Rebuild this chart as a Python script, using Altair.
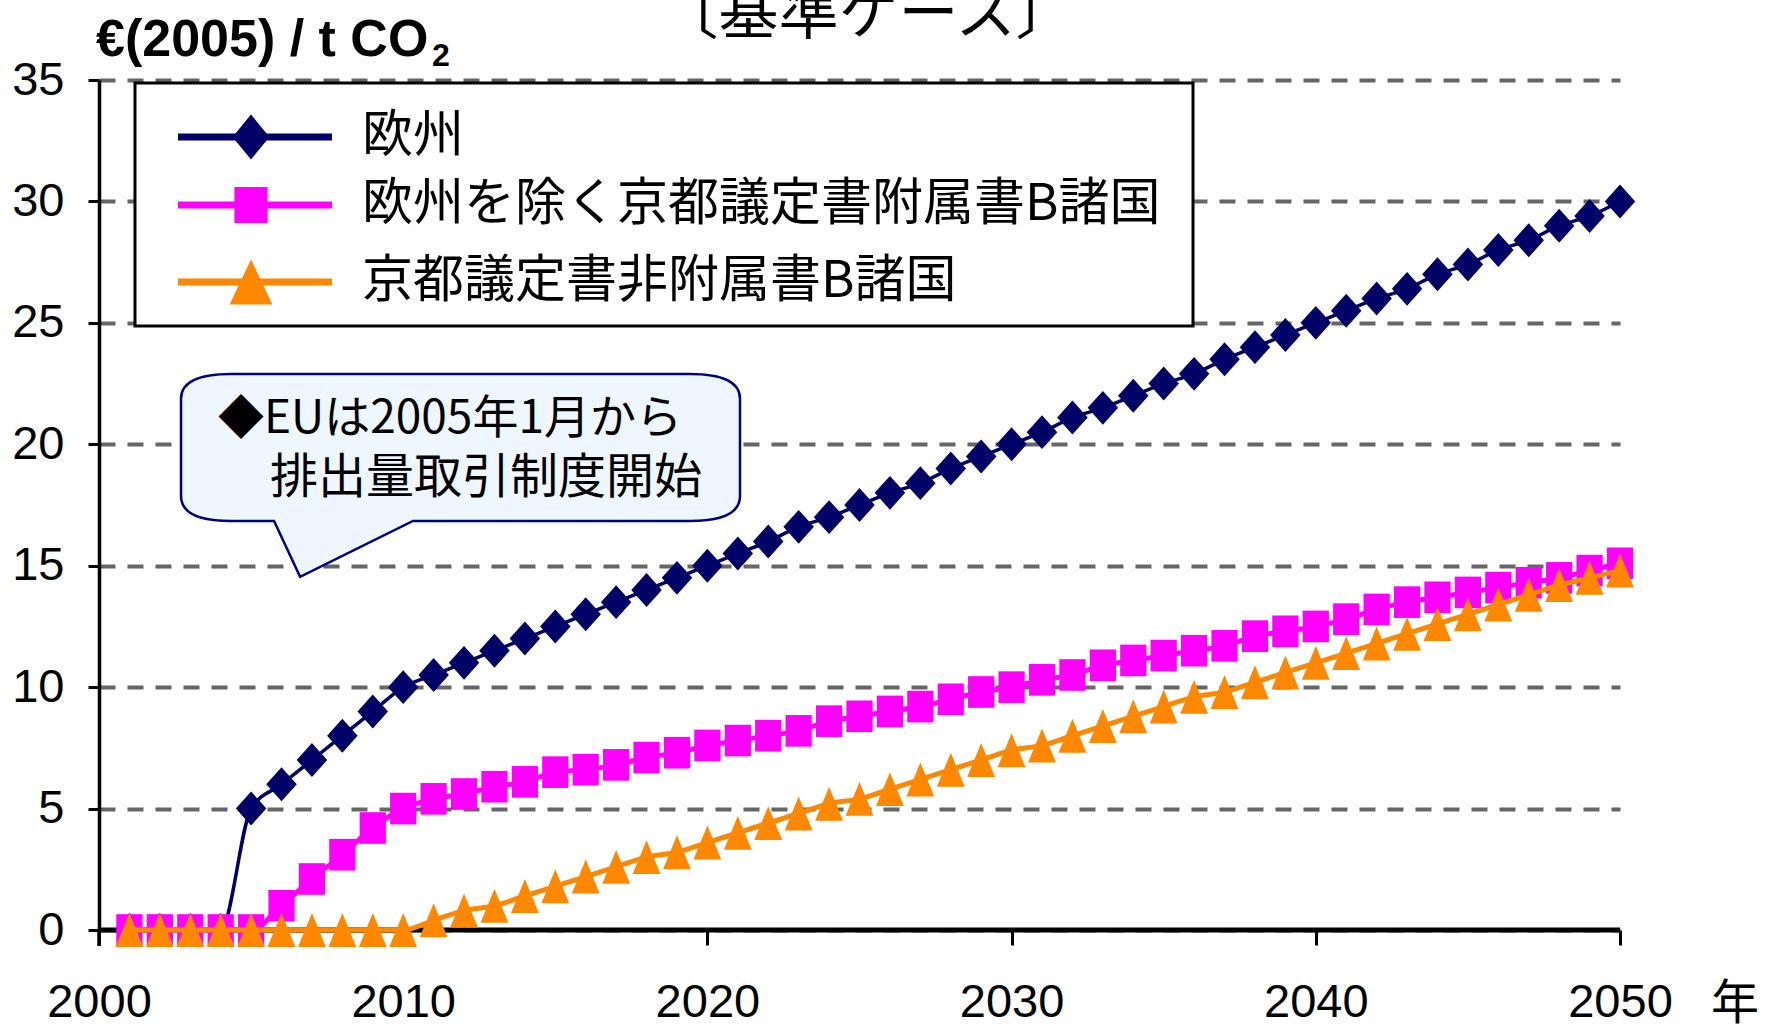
import altair as alt
import pandas as pd

# ---------------- data ----------------
years = list(range(2001, 2051))
europe = [0, 0, 0, 0, 5, 6, 7, 8, 9, 10,
          10.5, 11, 11.5, 12, 12.5, 13, 13.5, 14, 14.5, 15,
          15.5, 16, 16.6, 17, 17.5, 18, 18.4, 19, 19.5, 20,
          20.5, 21.1, 21.5, 22, 22.5, 22.9, 23.5, 24, 24.5, 25,
          25.5, 26, 26.4, 27, 27.4, 28, 28.4, 29, 29.4, 30]
annex_b = [0, 0, 0, 0, 0, 1.0, 2.1, 3.1, 4.2, 5.0,
           5.4, 5.6, 5.9, 6.1, 6.5, 6.6, 6.8, 7.1, 7.3, 7.6,
           7.8, 8.0, 8.2, 8.6, 8.8, 9.0, 9.2, 9.5, 9.8, 10.0,
           10.3, 10.5, 10.9, 11.1, 11.3, 11.5, 11.7, 12.1, 12.3, 12.5,
           12.8, 13.2, 13.5, 13.7, 13.9, 14.1, 14.3, 14.5, 14.8, 15.1]
non_annex_b = [0, 0, 0, 0, 0, 0, 0, 0, 0, 0,
               0.4, 0.8, 1.0, 1.4, 1.8, 2.2, 2.6, 3.0, 3.2, 3.6,
               4.0, 4.4, 4.8, 5.2, 5.4, 5.8, 6.2, 6.6, 7.0, 7.4,
               7.6, 8.0, 8.4, 8.8, 9.2, 9.6, 9.8, 10.2, 10.6, 11.0,
               11.4, 11.8, 12.2, 12.6, 13.0, 13.4, 13.8, 14.2, 14.5, 14.8]

series_names = ["欧州", "欧州を除く京都議定書附属書B諸国", "京都議定書非附属書B諸国"]
series_values = [europe, annex_b, non_annex_b]
series_colors = ["#000066", "#FF00FF", "#FF8800"]

y_ticks = [0, 5, 10, 15, 20, 25, 30, 35]
x_ticks = [2000, 2010, 2020, 2030, 2040, 2050]

title_text = "〔基準ケース〕"
unit_text = "€(2005) / t CO"
unit_sub = "2"
year_unit = "年"
note_lines = ["◆EUは2005年1月から", "排出量取引制度開始"]

# ---------------- styling ----------------
W, H = 1521, 850
JP = "Noto Sans CJK JP"
LAT = "Liberation Sans"

diamond = "M0,-1L0.9,0L0,1L-0.9,0Z"
square = "M-0.83,-1L0.83,-1L0.83,1L-0.83,1Z"
triangle = "M0,-1L0.82,1L-0.82,1Z"
marker_paths = [diamond, square, triangle]
marker_sizes = [1150, 1000, 1150]
legend_paths = ["M0,-1L0.82,0L0,1L-0.82,0Z", "M-0.92,-1L0.92,-1L0.92,1L-0.92,1Z", "M0,-1L0.95,1L-0.95,1Z"]
legend_sizes = [2025, 1300, 2025]
line_widths = [3.5, 5, 5]

rows = []
for name, vals in zip(series_names, series_values):
    for yr, v in zip(years, vals):
        rows.append({"year": yr, "value": v, "series": name})
df = pd.DataFrame(rows)

x_enc = alt.X("year:Q",
              scale=alt.Scale(domain=[2000, 2050], nice=False, zero=False),
              axis=alt.Axis(values=x_ticks, format="d", title=None, domain=False, grid=False,
                            tickSize=15, tickWidth=3, tickColor="black",
                            labelFont=LAT, labelFontSize=47, labelColor="black",
                            labelPadding=34, labelFlush=False, labelOverlap=False))
y_enc = alt.Y("value:Q",
              scale=alt.Scale(domain=[0, 35], nice=False),
              axis=alt.Axis(values=y_ticks, title=None, domainColor="black", domainWidth=3.5,
                            tickSize=11, tickWidth=3, tickColor="black",
                            labelFont=LAT, labelFontSize=47, labelColor="black",
                            labelPadding=24, labelFlush=False,
                            grid=True, gridColor="#666666", gridDash=[16, 12], gridWidth=4))

one = pd.DataFrame({"k": [0]})
layers = []

# zero baseline (thick x axis line)
layers.append(alt.Chart(pd.DataFrame({"value": [0]})).mark_rule(color="black", strokeWidth=5)
              .encode(y=y_enc))
# y axis extension below the x axis
layers.append(alt.Chart(one).mark_rule(color="black", strokeWidth=3.5)
              .encode(x=alt.value(0), y=alt.value(H), y2=alt.value(H + 16)))

for i, name in enumerate(series_names):
    sub = df[df["series"] == name]
    layers.append(alt.Chart(sub).mark_line(color=series_colors[i], strokeWidth=line_widths[i],
                                            interpolate="monotone")
                  .encode(x=x_enc, y=y_enc))
    layers.append(alt.Chart(sub).mark_point(shape=marker_paths[i], filled=True, size=marker_sizes[i],
                                             color=series_colors[i], opacity=1, strokeWidth=0)
                  .encode(x=x_enc, y=y_enc))

# legend box
layers.append(alt.Chart(one).mark_rect(fill="white", stroke="black", strokeWidth=3)
              .encode(x=alt.value(36), x2=alt.value(1094), y=alt.value(3), y2=alt.value(246)))
legend_rows = [57, 125, 202]
for i, name in enumerate(series_names):
    ry = legend_rows[i]
    layers.append(alt.Chart(one).mark_rule(color=series_colors[i], strokeWidth=7)
                  .encode(x=alt.value(79), x2=alt.value(233), y=alt.value(ry)))
    layers.append(alt.Chart(one).mark_point(shape=legend_paths[i], filled=True, size=legend_sizes[i],
                                             color=series_colors[i], opacity=1, strokeWidth=0)
                  .encode(x=alt.value(152), y=alt.value(ry)))
    layers.append(alt.Chart(one).mark_text(text=name, font=JP, fontSize=51, align="left",
                                            baseline="middle", color="black")
                  .encode(x=alt.value(263), y=alt.value(ry)))

# callout balloon
callout = ("M-0.821,-0.365L0.821,-0.365Q1,-0.365 1,-0.276L1,0.072Q1,0.161 0.821,0.161"
           "L-0.170,0.161L-0.574,0.361L-0.667,0.161L-0.821,0.161Q-1,0.161 -1,0.072"
           "L-1,-0.276Q-1,-0.365 -0.821,-0.365Z")
layers.append(alt.Chart(one).mark_point(shape=callout, size=559 ** 2, filled=True,
                                         fill="#EEF6FF", stroke="#000080", strokeWidth=2.5,
                                         opacity=1, fillOpacity=1, strokeOpacity=1)
              .encode(x=alt.value(361.5), y=alt.value(396)))
layers.append(alt.Chart(one).mark_text(text=note_lines[0], font=JP, fontSize=46, align="left",
                                        baseline="middle", color="black")
              .encode(x=alt.value(119), y=alt.value(339)))
layers.append(alt.Chart(one).mark_text(text=note_lines[1], font=JP, fontSize=48, align="left",
                                        baseline="middle", color="black")
              .encode(x=alt.value(171), y=alt.value(399)))

# unit label, title, year label
layers.append(alt.Chart(one).mark_text(text=unit_text, font=LAT, fontSize=52, fontWeight="bold",
                                        align="left", baseline="alphabetic", color="black")
              .encode(x=alt.value(-3), y=alt.value(-24)))
layers.append(alt.Chart(one).mark_text(text=unit_sub, font=LAT, fontSize=32, fontWeight="bold",
                                        align="left", baseline="alphabetic", color="black")
              .encode(x=alt.value(333), y=alt.value(-14)))
layers.append(alt.Chart(one).mark_text(text=title_text, font=JP, fontSize=60, align="center",
                                        baseline="alphabetic", color="black")
              .encode(x=alt.value(768), y=alt.value(-46)))
layers.append(alt.Chart(one).mark_text(text=year_unit, font=JP, fontSize=48, align="center",
                                        baseline="middle", color="black")
              .encode(x=alt.value(1636), y=alt.value(925)))

chart = alt.layer(*layers).properties(
    width=W, height=H,
    autosize=alt.AutoSizeParams(type="none"),
    padding={"left": 99, "top": 80, "right": 146, "bottom": 98},
    background="white",
).configure_view(stroke=None)

chart.save("out.html", embed_options={"renderer": "svg", "actions": False})
